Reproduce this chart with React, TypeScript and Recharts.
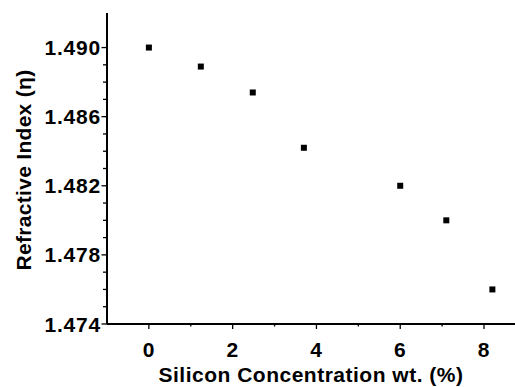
import React from "react";
import { ScatterChart, Scatter, XAxis, YAxis, Label } from "recharts";

// silicon content (wt. %) and measured refractive index
const silicon = [0, 1.24, 2.48, 3.7, 6.0, 7.1, 8.2];
const refractiveIndex = [1.49, 1.4889, 1.4874, 1.4842, 1.482, 1.48, 1.476];

const xMajor = [0, 2, 4, 6, 8];
const xMinor = [1, 3, 5, 7];
const yMajor = [1.474, 1.478, 1.482, 1.486, 1.49];
const yMinor = [
  1.475, 1.476, 1.477, 1.479, 1.48, 1.481, 1.483, 1.484, 1.485, 1.487, 1.488,
  1.489,
];

const data = silicon.map((x, i) => ({ x, y: refractiveIndex[i] }));

const FONT = "'Liberation Sans', Arial, Helvetica, sans-serif";

const BottomTick = (props: any) => {
  const { x, y, payload } = props;
  const major = xMajor.includes(payload.value);
  return (
    <g>
      <line x1={x} x2={x} y1={y} y2={y + (major ? 5 : 2.5)} stroke="#000" strokeWidth={1.3} />
      {major && (
        <text
          x={x}
          y={y + 33}
          textAnchor="middle"
          fontFamily={FONT}
          fontWeight="bold"
          fontSize={21}
          letterSpacing={0.6}
          fill="#000"
        >
          {payload.value}
        </text>
      )}
    </g>
  );
};

const TopTick = (props: any) => {
  const { x, y, payload } = props;
  const major = xMajor.includes(payload.value);
  return <line x1={x} x2={x} y1={y} y2={y + (major ? 6 : 3)} stroke="#000" strokeWidth={1.3} />;
};

const LeftTick = (props: any) => {
  const { x, y, payload } = props;
  const major = yMajor.includes(payload.value);
  return (
    <g>
      <line x1={x - (major ? 5.5 : 4)} x2={x} y1={y} y2={y} stroke="#000" strokeWidth={1.3} />
      {major && (
        <text
          x={x - 6}
          y={y + 7.5}
          textAnchor="end"
          fontFamily={FONT}
          fontWeight="bold"
          fontSize={21}
          letterSpacing={0.8}
          fill="#000"
        >
          {payload.value.toFixed(3)}
        </text>
      )}
    </g>
  );
};

const SquareDot = (props: any) => {
  const { cx, cy } = props;
  return <rect x={cx - 3} y={cy - 3} width={6} height={6} fill="#000" />;
};

export default function App() {
  return (
    <div style={{ position: "absolute", left: 0, top: 0, background: "#fff" }}>
      <ScatterChart
        width={515}
        height={387}
        margin={{ top: 13, right: 0, bottom: 0, left: 0 }}
      >
        <XAxis
          xAxisId="top"
          orientation="top"
          type="number"
          dataKey="x"
          domain={[-1, 8.74]}
          ticks={[...xMajor, ...xMinor]}
          interval={0}
          height={0}
          tickSize={0}
          tickMargin={0}
          tickLine={false}
          axisLine={{ stroke: "#000", strokeWidth: 2 }}
          tick={<TopTick />}
          allowDataOverflow
        />
        <XAxis
          type="number"
          dataKey="x"
          domain={[-1, 8.74]}
          ticks={[...xMajor, ...xMinor]}
          interval={0}
          height={63}
          tickSize={0}
          tickMargin={0}
          tickLine={false}
          axisLine={{ stroke: "#000", strokeWidth: 2 }}
          tick={<BottomTick />}
          allowDataOverflow
        >
          <Label
            content={() => (
              <text
                x={311}
                y={382}
                textAnchor="middle"
                fontFamily={FONT}
                fontWeight="bold"
                fontSize={21}
                letterSpacing={0.5}
                fill="#000"
              >
                Silicon Concentration wt. (%)
              </text>
            )}
          />
        </XAxis>
        <YAxis
          type="number"
          dataKey="y"
          domain={[1.474, 1.492]}
          ticks={[...yMajor, ...yMinor]}
          interval={0}
          width={107}
          tickSize={0}
          tickMargin={0}
          tickLine={false}
          axisLine={{ stroke: "#000", strokeWidth: 2 }}
          tick={<LeftTick />}
          allowDataOverflow
        >
          <Label
            content={() => (
              <text
                transform="translate(31,170) rotate(-90)"
                textAnchor="middle"
                fontFamily={FONT}
                fontWeight="bold"
                fontSize={21}
                letterSpacing={0.3}
                fill="#000"
              >
                Refractive Index (η)
              </text>
            )}
          />
        </YAxis>
        <Scatter data={data} shape={<SquareDot />} isAnimationActive={false} />
      </ScatterChart>
    </div>
  );
}
